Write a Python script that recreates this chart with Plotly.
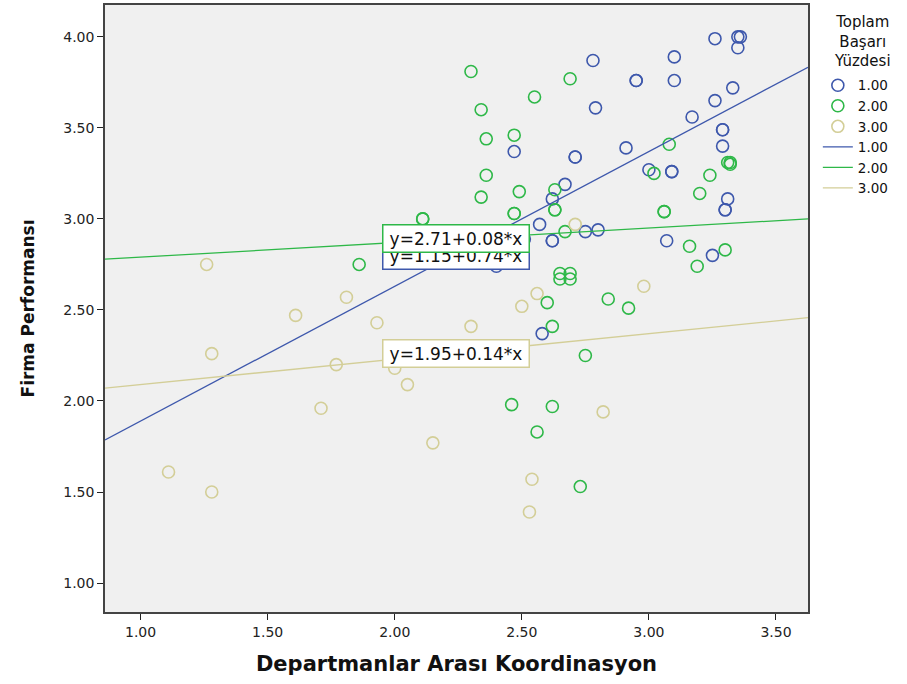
import plotly.graph_objects as go

# ---- data ----
groups = ["1.00", "2.00", "3.00"]
colors = ["#3E58AC", "#2EB848", "#D3CE97"]
legend_title = "Toplam<br>Başarı<br>Yüzdesi"

x_g1 = [3.26, 3.35, 3.36, 3.35, 2.78, 3.10, 2.95, 2.95, 3.10, 3.33, 3.26, 2.79, 3.17,
        3.29, 3.29, 3.29, 2.91, 2.47, 2.71, 2.71, 3.00, 3.09, 3.09, 2.67, 2.62, 3.31,
        3.30, 3.30, 2.57, 2.62, 2.62, 2.75, 2.80, 3.07, 3.25, 2.51, 2.40, 2.58]
y_g1 = [3.99, 4.00, 4.00, 3.94, 3.87, 3.89, 3.76, 3.76, 3.76, 3.72, 3.65, 3.61, 3.56,
        3.49, 3.49, 3.40, 3.39, 3.37, 3.34, 3.34, 3.27, 3.26, 3.26, 3.19, 3.11, 3.11,
        3.05, 3.05, 2.97, 2.88, 2.88, 2.93, 2.94, 2.88, 2.80, 2.89, 2.74, 2.37]

x_g2 = [2.30, 2.69, 2.55, 2.34, 2.36, 2.47, 2.36, 2.49, 2.34, 2.63, 2.63, 2.63, 2.47,
        2.47, 2.67, 3.08, 3.02, 3.24, 3.20, 3.31, 3.32, 3.32, 3.06, 3.06, 3.16, 3.30,
        3.19, 2.65, 2.69, 2.65, 2.69, 2.60, 2.84, 2.92, 2.62, 2.75, 2.46, 2.62, 2.56,
        2.73, 2.11, 2.11, 1.86]
y_g2 = [3.81, 3.77, 3.67, 3.60, 3.44, 3.46, 3.24, 3.15, 3.12, 3.16, 3.05, 3.05, 3.03,
        3.03, 2.93, 3.41, 3.25, 3.24, 3.14, 3.31, 3.30, 3.31, 3.04, 3.04, 2.85, 2.83,
        2.74, 2.70, 2.70, 2.67, 2.67, 2.54, 2.56, 2.51, 2.41, 2.25, 1.98, 1.97, 1.83,
        1.53, 3.00, 3.00, 2.75]

x_g3 = [2.71, 2.56, 2.50, 2.98, 2.30, 2.82, 2.54, 2.53, 1.26, 1.61, 1.81, 1.93, 1.28,
        1.77, 2.00, 2.05, 1.71, 2.15, 1.11, 1.28]
y_g3 = [2.97, 2.59, 2.52, 2.63, 2.41, 1.94, 1.57, 1.39, 2.75, 2.47, 2.57, 2.43, 2.26,
        2.20, 2.18, 2.09, 1.96, 1.77, 1.61, 1.50]

intercepts = [1.15, 2.71, 1.95]
slopes = [0.74, 0.08, 0.14]
eq_labels = ["y=1.15+0.74*x", "y=2.71+0.08*x", "y=1.95+0.14*x"]
eq_pos_x = [2.24, 2.24, 2.24]
eq_pos_y = [2.80, 2.89, 2.26]

x_ticks = [1.0, 1.5, 2.0, 2.5, 3.0, 3.5]
y_ticks = [1.0, 1.5, 2.0, 2.5, 3.0, 3.5, 4.0]
x_range = [0.86, 3.626]
y_range = [0.841, 4.175]

xs = [x_g1, x_g2, x_g3]
ys = [y_g1, y_g2, y_g3]

FONT = "DejaVu Sans, Verdana, sans-serif"

fig = go.Figure()
for g, c, xv, yv in zip(groups, colors, xs, ys):
    fig.add_trace(go.Scatter(
        x=xv, y=yv, mode="markers", name=g,
        marker=dict(symbol="circle-open", size=12, color=c, line=dict(width=1.6, color=c)),
    ))
for g, c, a, b in zip(groups, colors, intercepts, slopes):
    lx = [x_range[0], x_range[1]]
    ly = [a + b * v for v in lx]
    fig.add_trace(go.Scatter(
        x=lx, y=ly, mode="lines", name=g,
        line=dict(color=c, width=1.3),
    ))

for lab, c, ex, ey in zip(eq_labels, colors, eq_pos_x, eq_pos_y):
    fig.add_annotation(
        x=ex, y=ey, xref="x", yref="y", text=lab, showarrow=False,
        font=dict(family=FONT, size=17, color="#111"),
        bgcolor="white", bordercolor=c, borderwidth=1.5, borderpad=2,
        width=141, height=22,
    )

# legend title, centred above the legend items
fig.add_annotation(
    x=1.078, y=0.99, xref="paper", yref="paper", xanchor="center", yanchor="top",
    text=legend_title, showarrow=False, align="center",
    font=dict(family=FONT, size=15, color="#111"),
)

fig.update_layout(
    width=907, height=684,
    margin=dict(l=105, r=99, t=3, b=72),
    paper_bgcolor="white", plot_bgcolor="#F0F0F0",
    font=dict(family=FONT, size=13, color="#222"),
    showlegend=True,
    legend=dict(
        x=1.014, xanchor="left", y=0.893, yanchor="top",
        font=dict(family=FONT, size=13.5, color="#111"),
        tracegroupgap=0, itemwidth=30, bgcolor="rgba(0,0,0,0)",
    ),
    xaxis=dict(
        range=x_range, tickvals=x_ticks, ticktext=[f"{v:.2f}" for v in x_ticks],
        showgrid=False, zeroline=False, ticks="outside", ticklen=6, tickcolor="#222",
        showline=True, linecolor="#444", linewidth=1.5, mirror=True,
        tickfont=dict(family=FONT, size=14, color="#222"),
        title=dict(text="<b>Departmanlar Arası Koordinasyon</b>",
                   font=dict(family=FONT, size=21, color="#111"), standoff=18),
    ),
    yaxis=dict(
        range=y_range, tickvals=y_ticks, ticktext=[f"{v:.2f}" for v in y_ticks],
        showgrid=False, zeroline=False, ticks="outside", ticklen=6, tickcolor="#222",
        showline=True, linecolor="#444", linewidth=1.5, mirror=True,
        tickfont=dict(family=FONT, size=14, color="#222"),
        title=dict(text="<b>Firma Performansı</b>",
                   font=dict(family=FONT, size=17, color="#111"), standoff=24),
    ),
)

fig.write_html("out.html")
